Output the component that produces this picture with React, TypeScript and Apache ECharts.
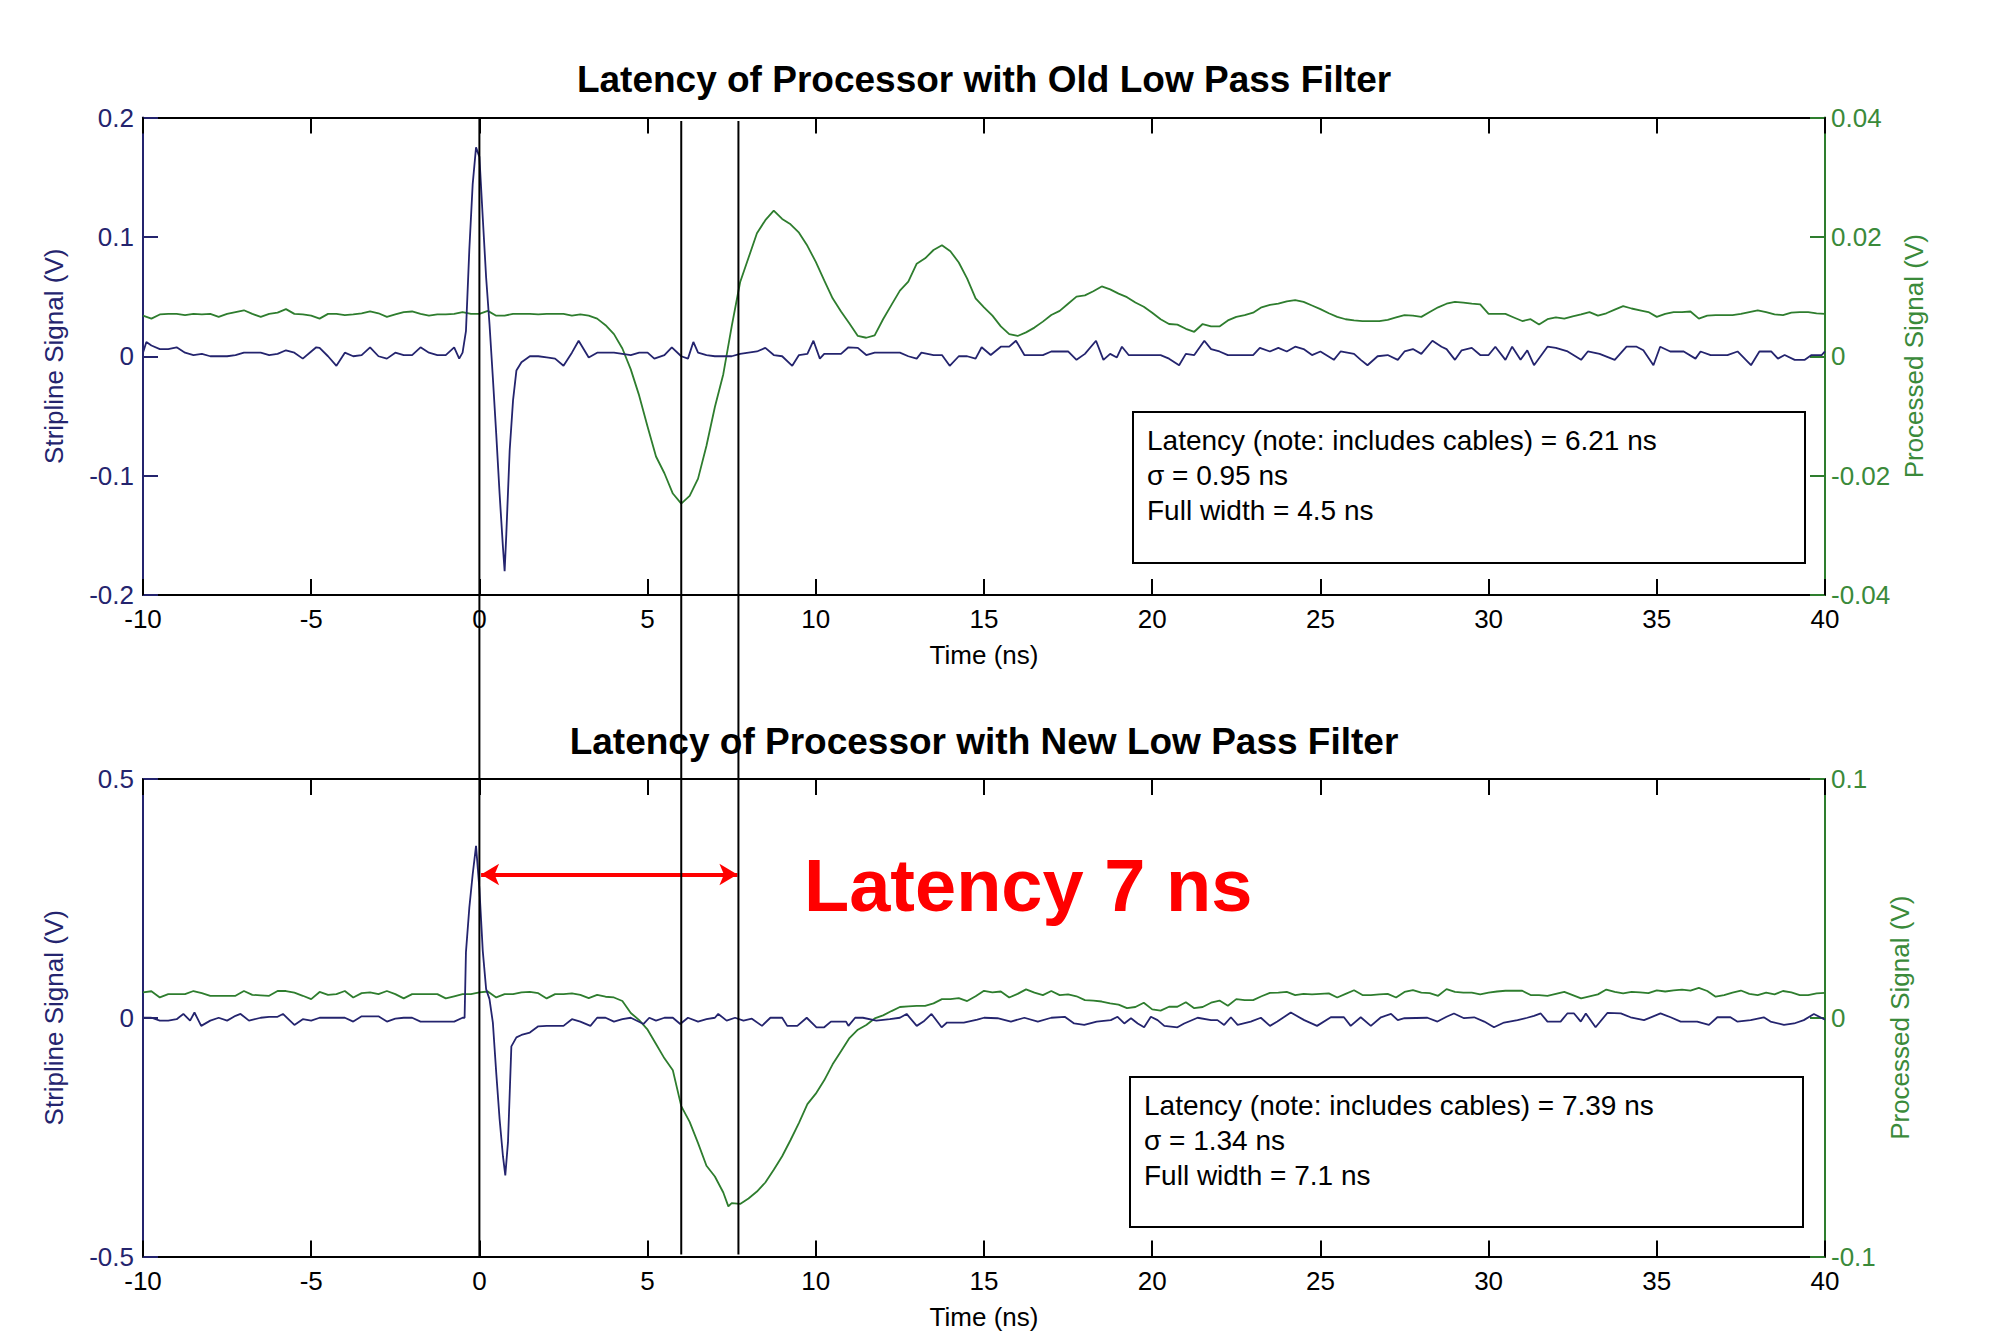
import React, { useEffect, useRef } from "react";
import * as echarts from "echarts";

// ---------- DATA ----------
const topTitle = "Latency of Processor with Old Low Pass Filter";
const bottomTitle = "Latency of Processor with New Low Pass Filter";
const xLabel = "Time (ns)";
const leftLabel = "Stripline Signal (V)";
const rightLabel = "Processed Signal (V)";
const topBoxLines = ["Latency (note: includes cables) = 6.21 ns", "σ = 0.95 ns", "Full width = 4.5 ns"];
const bottomBoxLines = ["Latency (note: includes cables) = 7.39 ns", "σ = 1.34 ns", "Full width = 7.1 ns"];
const latencyText = "Latency 7 ns";
const markerTimes = [0, 6.0, 7.7];
const arrowFrom = [0.05, 0.3];
const arrowTo = [7.67, 0.3];

const oldStripline: number[][] = [
  [-10,0.003],[-9.9,0.012],[-9.75,0.009],[-9.5,0.006],[-9.25,0.006],[-9,0.0075],[-8.75,0.003],[-8.5,0.001],[-8.25,0.002],[-8,0],[-7.75,0],[-7.5,0],[-7.25,0.001],[-7,0.003],[-6.75,0.003],[-6.5,0.003],[-6.25,0.001],[-6,0.002],[-5.75,0.005],[-5.5,0.003],[-5.25,-0.002],[-5,0.004],[-4.85,0.0075],[-4.75,0.007],[-4.5,0],[-4.25,-0.008],[-4,0.003],[-3.75,0],[-3.5,0.001],[-3.25,0.0075],[-3,0],[-2.75,-0.002],[-2.5,0.003],[-2.25,0.001],[-2,0.001],[-1.75,0.0075],[-1.5,0.003],[-1.25,0.001],[-1,0.001],[-0.75,0.0075],[-0.6,-0.002],[-0.5,0.003],[-0.4,0.021],[-0.3,0.089],[-0.2,0.144],[-0.1,0.175],[0,0.167],[0.1,0.116],[0.2,0.066],[0.3,0.027],[0.4,-0.018],[0.5,-0.065],[0.6,-0.115],[0.7,-0.16],[0.75,-0.18],[0.8,-0.149],[0.9,-0.079],[1,-0.037],[1.1,-0.012],[1.25,-0.005],[1.5,0],[1.75,0],[2,-0.001],[2.25,-0.002],[2.5,-0.008],[2.75,0.003],[2.95,0.013],[3.25,-0.001],[3.5,0.003],[3.75,0.003],[4,0.003],[4.25,0.002],[4.5,0.001],[4.75,0.003],[5,0.003],[5.2,-0.002],[5.5,0.001],[5.72,0.0075],[6,0],[6.2,-0.002],[6.36,0.012],[6.5,0.003],[6.75,0.001],[7,0],[7.25,0],[7.5,0],[7.75,0.002],[8,0.003],[8.25,0.004],[8.5,0.007],[8.75,0.001],[9,0],[9.3,-0.008],[9.5,0.001],[9.75,0.002],[9.93,0.013],[10.12,-0.002],[10.25,0.002],[10.5,0.002],[10.75,0.002],[10.97,0.0075],[11.25,0.007],[11.5,0.001],[11.75,0.003],[12,0.003],[12.25,0.003],[12.5,0.003],[12.75,0],[13,-0.002],[13.14,0.003],[13.5,0.001],[13.75,0.001],[13.98,-0.008],[14.25,0],[14.5,0],[14.75,-0.002],[14.93,0.0075],[15.2,0.001],[15.5,0.008],[15.75,0.008],[15.95,0.013],[16.2,0.001],[16.5,0.001],[16.75,0.001],[17,0.004],[17.25,0.004],[17.5,0.004],[17.75,-0.003],[18,0.002],[18.33,0.013],[18.55,-0.003],[18.75,0.002],[18.95,-0.001],[19.1,0.008],[19.3,0.001],[19.5,0.001],[19.75,0.001],[20,0.001],[20.25,0.001],[20.5,-0.002],[20.8,-0.0075],[21,0.002],[21.25,0.001],[21.55,0.013],[21.75,0.006],[22,0.004],[22.25,0.001],[22.5,0.001],[22.75,0.001],[23,0.001],[23.2,0.007],[23.5,0.004],[23.75,0.007],[24,0.004],[24.25,0.008],[24.5,0.006],[24.75,0.001],[25,0.004],[25.4,-0.003],[25.6,0.004],[26,0.002],[26.2,-0.003],[26.4,-0.0075],[26.7,0],[27,0.001],[27.3,-0.003],[27.5,0.004],[27.75,0.006],[28,0.002],[28.33,0.013],[28.6,0.008],[28.75,0.006],[29,-0.003],[29.2,0.005],[29.5,0.007],[29.75,0.001],[30,0.001],[30.2,0.008],[30.5,-0.003],[30.7,0.008],[30.95,-0.003],[31.15,0.005],[31.35,-0.0075],[31.75,0.008],[32,0.007],[32.35,0.004],[32.75,-0.003],[32.95,0.004],[33.3,0.002],[33.75,-0.003],[34.1,0.008],[34.4,0.008],[34.6,0.005],[34.9,-0.0075],[35.1,0.008],[35.4,0.004],[35.8,0.004],[36.15,-0.002],[36.3,0.004],[36.6,0.001],[37.1,0.001],[37.4,0.004],[37.8,-0.0075],[38.05,0.004],[38.4,0.004],[38.6,-0.002],[38.8,0.001],[39.1,-0.003],[39.4,-0.003],[39.6,0.001],[39.9,0.001],[40,0.004]
];

const oldProcessed: number[][] = [
  [-10,0.0068],[-9.75,0.0063],[-9.5,0.007],[-9.25,0.0071],[-9,0.0071],[-8.75,0.0069],[-8.5,0.0071],[-8.25,0.007],[-8,0.0071],[-7.75,0.0066],[-7.5,0.0071],[-7.25,0.0074],[-7,0.0077],[-6.75,0.0071],[-6.5,0.0066],[-6.25,0.0071],[-6,0.0073],[-5.75,0.0079],[-5.5,0.0071],[-5.25,0.007],[-5,0.0068],[-4.75,0.0063],[-4.5,0.0071],[-4.25,0.0071],[-4,0.0069],[-3.75,0.007],[-3.5,0.0072],[-3.25,0.0075],[-3,0.0072],[-2.75,0.0066],[-2.5,0.007],[-2.25,0.0074],[-2,0.0075],[-1.75,0.0071],[-1.5,0.0068],[-1.25,0.007],[-1,0.007],[-0.75,0.0071],[-0.5,0.0074],[-0.25,0.0071],[0,0.0071],[0.25,0.0076],[0.5,0.0068],[0.75,0.0068],[1,0.0071],[1.25,0.0071],[1.5,0.0071],[1.75,0.007],[2,0.0071],[2.25,0.0071],
  [2.5,0.0071],[2.75,0.0068],[3,0.007],[3.25,0.0068],[3.5,0.0063],[3.75,0.0052],[4,0.0037],[4.25,0.0013],[4.5,-0.0022],[4.75,-0.0066],[5,-0.0118],[5.25,-0.0168],[5.5,-0.0196],[5.75,-0.023],[6,-0.0247],[6.25,-0.0234],[6.5,-0.0205],[6.75,-0.015],[7,-0.0085],[7.25,-0.003],[7.5,0.005],[7.75,0.0124],[8,0.0165],[8.25,0.0206],[8.5,0.0228],[8.75,0.0244],[9,0.023],[9.25,0.0221],[9.5,0.0207],[9.75,0.0185],[10,0.0158],[10.25,0.0127],[10.5,0.0097],[10.75,0.0075],[11,0.0055],[11.25,0.0034],[11.5,0.0031],[11.75,0.0035],[12,0.0062],[12.25,0.0086],[12.5,0.011],[12.75,0.0125],[13,0.0155],[13.25,0.0164],[13.5,0.0178],[13.75,0.0186],[14,0.0176],[14.25,0.0157],[14.5,0.013],[14.75,0.0097],[15,0.0082],
  [15.25,0.0068],[15.5,0.005],[15.75,0.0037],[16,0.0034],[16.25,0.004],[16.5,0.0048],[16.75,0.0058],[17,0.0069],[17.25,0.0076],[17.5,0.0088],[17.75,0.01],[18,0.0102],[18.25,0.0109],[18.5,0.0117],[18.75,0.0112],[19,0.0105],[19.25,0.0099],[19.5,0.009],[19.75,0.0083],[20,0.0073],[20.25,0.0062],[20.5,0.0054],[20.75,0.0053],[21,0.0046],[21.25,0.0041],[21.5,0.0054],[21.75,0.005],[22,0.005],[22.25,0.006],[22.5,0.0066],[22.75,0.0069],[23,0.0073],[23.25,0.0082],[23.5,0.0086],[23.75,0.0088],[24,0.0092],[24.25,0.0094],[24.5,0.0091],[24.75,0.0085],[25,0.0079],[25.25,0.0072],[25.5,0.0066],[25.75,0.0062],[26,0.006],[26.25,0.0059],[26.5,0.0059],[26.75,0.0059],[27,0.0061],[27.25,0.0065],[27.5,0.0069],
  [27.75,0.0068],[28,0.0066],[28.25,0.0074],[28.5,0.0082],[28.75,0.0088],[29,0.0091],[29.25,0.009],[29.5,0.0088],[29.75,0.0087],[30,0.0071],[30.25,0.0071],[30.5,0.0071],[30.75,0.0065],[31,0.0059],[31.25,0.0062],[31.5,0.0053],[31.75,0.0062],[32,0.0065],[32.25,0.0063],[32.5,0.0067],[32.75,0.007],[33,0.0074],[33.25,0.0068],[33.5,0.0072],[33.75,0.0078],[34,0.0084],[34.25,0.008],[34.5,0.0077],[34.75,0.0074],[35,0.0066],[35.25,0.0071],[35.5,0.0074],[35.75,0.0074],[36,0.0075],[36.25,0.0063],[36.5,0.0068],[36.75,0.0069],[37,0.0069],[37.25,0.0069],[37.5,0.0071],[37.75,0.0074],[38,0.0077],[38.25,0.0074],[38.5,0.007],[38.75,0.0069],[39,0.0073],[39.25,0.0074],[39.5,0.0074],[39.75,0.0072],[40,0.0071]
];

const newStripline: number[][] = [
  [-10,0],[-9.75,0],[-9.5,-0.006],[-9.25,-0.006],[-9,-0.003],[-8.8,0.008],[-8.6,-0.006],[-8.47,0.011],[-8.27,-0.017],[-8,-0.006],[-7.75,0],[-7.5,-0.006],[-7.25,0.004],[-7.1,0.008],[-6.85,-0.006],[-6.5,0],[-6.25,0.002],[-6,0.002],[-5.84,0.008],[-5.5,-0.015],[-5.25,-0.003],[-5,-0.006],[-4.75,0],[-4.5,0],[-4.25,0],[-4,0],[-3.75,-0.008],[-3.5,0.003],[-3.25,0.003],[-3,0.003],[-2.75,-0.008],[-2.5,-0.002],[-2.25,0],[-2,0],[-1.75,-0.008],[-1.5,-0.008],[-1.25,-0.008],[-1,-0.008],[-0.75,-0.008],[-0.5,0],[-0.44,0],[-0.4,0.137],[-0.3,0.23],[-0.2,0.3],[-0.1,0.36],[0,0.27],[0.1,0.14],[0.2,0.06],[0.3,0.039],[0.4,-0.01],[0.5,-0.115],[0.6,-0.212],[0.7,-0.29],[0.77,-0.33],[0.85,-0.26],[0.95,-0.06],[1.1,-0.041],[1.25,-0.036],[1.5,-0.031],[1.75,-0.018],[2,-0.017],[2.25,-0.017],[2.5,-0.017],
  [2.75,-0.003],[3,-0.008],[3.3,-0.017],[3.5,0],[3.75,0],[4,-0.008],[4.25,-0.003],[4.5,0],[4.88,-0.013],[5.05,0],[5.25,-0.006],[5.5,0],[5.75,0],[5.97,-0.013],[6.2,0],[6.5,-0.008],[6.75,-0.003],[7,0],[7.1,0.008],[7.35,-0.006],[7.6,0],[7.85,-0.006],[8.1,-0.002],[8.4,-0.017],[8.65,0],[9,0],[9.15,-0.017],[9.45,-0.017],[9.73,0],[10.02,-0.02],[10.25,-0.02],[10.45,-0.008],[10.9,-0.008],[10.97,-0.017],[11.17,0],[11.4,0],[11.8,-0.006],[12.2,-0.003],[12.5,0],[12.7,0.008],[13,-0.017],[13.2,-0.008],[13.44,0.008],[13.74,-0.02],[13.9,-0.01],[14.4,-0.01],[14.8,-0.004],[15,0],
  [15.4,-0.001],[15.8,-0.008],[16.2,0],[16.6,-0.008],[17,0],[17.4,0.002],[17.68,-0.012],[17.98,-0.015],[18.35,-0.008],[18.77,-0.005],[18.97,0.002],[19.17,-0.012],[19.37,-0.001],[19.57,-0.012],[19.76,-0.02],[19.96,0.002],[20.16,-0.005],[20.36,-0.017],[20.75,-0.02],[20.95,-0.012],[21.35,0],[21.75,-0.005],[21.94,-0.005],[22.14,-0.015],[22.34,0.001],[22.54,-0.015],[22.93,-0.008],[23.23,0],[23.5,-0.017],[23.72,-0.008],[24.12,0.011],[24.52,-0.005],[24.9,-0.017],[25.31,0.001],[25.7,0.001],[25.9,-0.017],[26.2,0.001],[26.5,-0.017],[26.8,0.001],[27.1,0.008],[27.3,-0.005],[27.5,-0.001],
  [28.18,0],[28.48,-0.008],[28.75,0.002],[28.97,0.009],[29.27,-0.001],[29.57,0.001],[29.87,-0.008],[30.16,-0.02],[30.46,-0.01],[30.86,-0.005],[31.15,0],[31.35,0.004],[31.55,0.009],[31.75,-0.008],[32.14,-0.008],[32.34,0.009],[32.54,0.009],[32.74,-0.008],[32.89,0.009],[33.18,-0.02],[33.53,0.01],[33.93,0.009],[34.22,0.001],[34.62,-0.005],[35.11,0.009],[35.41,0.001],[35.71,-0.008],[36.2,-0.008],[36.55,-0.015],[36.8,0.001],[37.19,0.001],[37.39,-0.008],[37.79,-0.005],[38.18,0.001],[38.38,-0.008],[38.78,-0.015],[39.08,-0.012],[39.37,-0.005],[39.67,0.008],[40,-0.004]
];

const newProcessed: number[][] = [
  [-10,0.0106],[-9.75,0.0111],[-9.5,0.0085],[-9.25,0.0099],[-9,0.0099],[-8.75,0.0099],[-8.5,0.0112],[-8.25,0.0103],[-8,0.0092],[-7.75,0.0092],[-7.5,0.0092],[-7.25,0.0092],[-7,0.0112],[-6.75,0.0096],[-6.5,0.0094],[-6.25,0.0092],[-6,0.0112],[-5.75,0.0112],[-5.5,0.0105],[-5.25,0.0092],[-5,0.0078],[-4.75,0.0108],[-4.5,0.0096],[-4.25,0.0099],[-4,0.0112],[-3.75,0.0085],[-3.5,0.0103],[-3.25,0.0106],[-3,0.0099],[-2.75,0.0112],[-2.5,0.0099],[-2.25,0.0081],[-2,0.0099],[-1.75,0.0099],[-1.5,0.0099],[-1.25,0.0099],[-1,0.0081],[-0.75,0.009],[-0.5,0.0099],[-0.25,0.0099],[0,0.0106],[0.25,0.011],[0.5,0.0085],[0.75,0.0099],[1,0.0099],[1.25,0.0106],[1.5,0.0108],[1.75,0.0103],[2,0.0081],[2.25,0.0099],[2.5,0.0099],
  [2.75,0.0102],[3,0.0096],[3.25,0.0082],[3.5,0.0096],[3.75,0.0088],[4,0.0085],[4.25,0.007],[4.5,0.002],[4.75,-0.001],[5,-0.005],[5.25,-0.011],[5.5,-0.017],[5.75,-0.022],[6,-0.037],[6.25,-0.0436],[6.5,-0.0525],[6.75,-0.062],[7,-0.0665],[7.25,-0.0732],[7.4,-0.079],[7.5,-0.0776],[7.75,-0.078],[8,-0.0757],[8.25,-0.0728],[8.5,-0.069],[8.75,-0.0637],[9,-0.058],[9.25,-0.0512],[9.5,-0.044],[9.75,-0.0362],[10,-0.0318],[10.25,-0.0262],[10.5,-0.0195],[10.75,-0.014],[11,-0.0085],[11.25,-0.005],[11.5,-0.003],[11.75,-0.0003],[12,0.001],[12.25,0.0028],[12.5,0.0045],[12.75,0.0048],[13,0.005],[13.25,0.005],[13.5,0.006],[13.75,0.0078],[14,0.0078],[14.25,0.0082],[14.5,0.007],[14.75,0.009],[15,0.0113],
  [15.25,0.0106],[15.5,0.011],[15.75,0.0085],[16,0.01],[16.25,0.0119],[16.5,0.0105],[16.75,0.0095],[17,0.0112],[17.25,0.0095],[17.5,0.0098],[17.75,0.009],[18,0.0074],[18.25,0.0072],[18.5,0.0068],[18.75,0.006],[19,0.0055],[19.25,0.004],[19.5,0.0045],[19.75,0.0063],[20,0.0035],[20.25,0.003],[20.5,0.0046],[20.75,0.0046],[21,0.0065],[21.25,0.004],[21.5,0.0045],[21.75,0.0063],[22,0.0072],[22.25,0.005],[22.5,0.0078],[22.75,0.0074],[23,0.0074],[23.25,0.009],[23.5,0.0104],[23.75,0.0105],[24,0.0108],[24.25,0.0095],[24.5,0.01],[24.75,0.0098],[25,0.01],[25.25,0.0102],[25.5,0.0085],[25.75,0.01],[26,0.0115],[26.25,0.0095],[26.5,0.0095],[26.75,0.0098],[27,0.01],[27.25,0.0085],[27.5,0.0108],
  [27.75,0.0116],[28,0.0105],[28.25,0.0103],[28.5,0.0092],[28.75,0.012],[29,0.0108],[29.25,0.0105],[29.5,0.0105],[29.75,0.0098],[30,0.0105],[30.25,0.011],[30.5,0.0113],[30.75,0.0113],[31,0.0113],[31.25,0.0095],[31.5,0.0095],[31.75,0.0092],[32,0.01],[32.25,0.0108],[32.5,0.0095],[32.75,0.0081],[33,0.009],[33.25,0.0098],[33.5,0.0118],[33.75,0.0108],[34,0.0102],[34.25,0.0108],[34.5,0.0106],[34.75,0.0103],[35,0.0115],[35.25,0.011],[35.5,0.0115],[35.75,0.0118],[36,0.0114],[36.25,0.0125],[36.5,0.0112],[36.75,0.0088],[37,0.0095],[37.25,0.0105],[37.5,0.0114],[37.75,0.01],[38,0.0095],[38.25,0.0105],[38.5,0.0098],[38.75,0.0112],[39,0.0106],[39.25,0.0095],[39.5,0.0095],[39.75,0.0102],[40,0.0104]
];

// ---------- STYLE ----------
const FONT = "'Liberation Sans', Arial, Helvetica, sans-serif";
const NAVY = "#24246e";
const GREEN = "#2e7d2e";
const GREEN_TXT = "#3a8a3a";
const W = 1996;
const H = 1344;

function xAxisPair(gridIndex: number) {
  const common = {
    gridIndex,
    type: "value" as const,
    min: -10,
    max: 40,
    interval: 5,
    splitLine: { show: false },
    axisLine: { show: true, onZero: false, lineStyle: { color: "#000", width: 2 } },
    axisTick: { show: true, inside: true, length: 16, lineStyle: { color: "#000", width: 2 } },
  };
  return [
    {
      ...common,
      position: "bottom",
      axisLabel: { show: true, color: "#000", fontSize: 26, fontFamily: FONT, margin: 11 },
      name: xLabel,
      nameLocation: "middle",
      nameGap: 47,
      nameTextStyle: { color: "#000", fontSize: 26, fontFamily: FONT },
    },
    { ...common, position: "top", axisLabel: { show: false } },
  ];
}

function yAxis(gridIndex: number, side: "left" | "right", min: number, max: number, interval: number, nameGap: number) {
  const left = side === "left";
  const color = left ? NAVY : GREEN_TXT;
  return {
    gridIndex,
    type: "value" as const,
    position: side,
    min,
    max,
    interval,
    splitLine: { show: false },
    axisLine: { show: true, onZero: false, lineStyle: { color: left ? NAVY : GREEN, width: 2 } },
    axisTick: { show: true, inside: true, length: 15, lineStyle: { color: left ? NAVY : GREEN, width: 2 } },
    axisLabel: { color, fontSize: 26, fontFamily: FONT, margin: left ? 9 : 6 },
    name: left ? leftLabel : rightLabel,
    nameLocation: "middle",
    nameRotate: 90,
    nameGap,
    nameTextStyle: { color, fontSize: 26, fontFamily: FONT },
  };
}

export default function App() {
  const ref = useRef<HTMLDivElement>(null);

  useEffect(() => {
    if (!ref.current) return;
    const chart = echarts.init(ref.current, null, { renderer: "svg", width: W, height: H });
    const option: any = {
      animation: false,
      backgroundColor: "#fff",
      textStyle: { fontFamily: FONT },
      grid: [
        { left: 143, right: 171, top: 117.5, height: 477.5 },
        { left: 143, right: 171, top: 779, height: 477.5 },
      ],
      xAxis: [...xAxisPair(0), ...xAxisPair(1)],
      yAxis: [
        yAxis(0, "left", -0.2, 0.2, 0.1, 76),
        yAxis(0, "right", -0.04, 0.04, 0.02, 74),
        yAxis(1, "left", -0.5, 0.5, 0.5, 76),
        yAxis(1, "right", -0.1, 0.1, 0.1, 62),
      ],
      series: [
        { type: "line", name: "old stripline", xAxisIndex: 0, yAxisIndex: 0, data: oldStripline, showSymbol: false, symbol: "none", lineStyle: { color: NAVY, width: 1.8 }, z: 3 },
        { type: "line", name: "old processed", xAxisIndex: 0, yAxisIndex: 1, data: oldProcessed, showSymbol: false, symbol: "none", lineStyle: { color: GREEN, width: 1.8 }, z: 2 },
        {
          type: "line", name: "new stripline", xAxisIndex: 2, yAxisIndex: 2, data: newStripline, showSymbol: false, symbol: "none", lineStyle: { color: NAVY, width: 1.8 }, z: 3,
          markLine: {
            silent: true,
            symbol: ["arrow", "arrow"],
            symbolSize: [16, 18],
            label: { show: false },
            lineStyle: { color: "#ff0000", width: 4, type: "solid" },
            itemStyle: { color: "#ff0000" },
            data: [[{ coord: arrowFrom }, { coord: arrowTo }]],
          },
        },
        { type: "line", name: "new processed", xAxisIndex: 2, yAxisIndex: 3, data: newProcessed, showSymbol: false, symbol: "none", lineStyle: { color: GREEN, width: 1.8 }, z: 2 },
      ],
    };
    chart.setOption(option);

    const px = (axis: any, v: number) => chart.convertToPixel(axis, v) as number;
    const xs = markerTimes.map((t) => px({ xAxisIndex: 0 }, t));
    const yTop0 = px({ yAxisIndex: 0 }, 0.2);
    const yTop1 = px({ yAxisIndex: 0 }, 0.197);
    const yBot = px({ yAxisIndex: 2 }, -0.5);
    const cx = (px({ xAxisIndex: 0 }, -10) + px({ xAxisIndex: 0 }, 40)) / 2;

    const graphic: any[] = [];
    xs.forEach((x, i) => {
      graphic.push({
        type: "line",
        z: 50,
        silent: true,
        shape: { x1: x, y1: i === 0 ? yTop0 : yTop1, x2: x, y2: i === 0 ? yBot : yBot - 2 },
        style: { stroke: "#000", lineWidth: 2 },
      });
    });
    [
      { t: topTitle, y: 79 },
      { t: bottomTitle, y: 741 },
    ].forEach((o) => {
      graphic.push({
        type: "text",
        z: 40,
        x: cx,
        y: o.y,
        style: { text: o.t, fill: "#000", font: `bold 37px ${FONT}`, align: "center", verticalAlign: "middle" },
      });
    });
    const boxes = [
      { x: 1133, y: 412, w: 672, h: 151, lines: topBoxLines },
      { x: 1130, y: 1077, w: 673, h: 150, lines: bottomBoxLines },
    ];
    boxes.forEach((b) => {
      graphic.push({
        type: "rect",
        z: 60,
        shape: { x: b.x, y: b.y, width: b.w, height: b.h },
        style: { fill: "#fff", stroke: "#000", lineWidth: 2 },
      });
      b.lines.forEach((line, i) => {
        graphic.push({
          type: "text",
          z: 61,
          x: b.x + 14,
          y: b.y + 28 + i * 35,
          style: { text: line, fill: "#000", font: `28px ${FONT}`, align: "left", verticalAlign: "middle" },
        });
      });
    });
    graphic.push({
      type: "text",
      z: 70,
      x: 804,
      y: 885,
      style: { text: latencyText, fill: "#ff0000", font: `bold 74px ${FONT}`, align: "left", verticalAlign: "middle" },
    });
    chart.setOption({ graphic });

    return () => chart.dispose();
  }, []);

  return (
    <div
      ref={ref}
      style={{ position: "fixed", left: 0, top: 0, width: W, height: H, background: "#fff" }}
    />
  );
}
